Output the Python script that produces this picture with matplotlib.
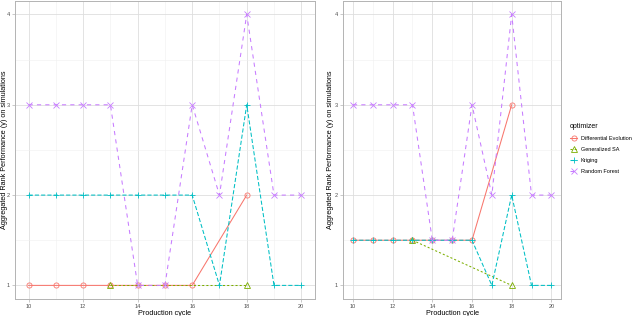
import matplotlib
matplotlib.use("Agg")
import matplotlib.pyplot as plt
import numpy as np

plt.rcParams['font.family'] = ['Liberation Sans', 'DejaVu Sans']

# ggplot-style colours / shapes / linetypes per optimizer
optimizers = ["Differential Evolution", "Generalized SA", "Kriging", "Random Forest"]
colors = ["#F8766D", "#7CAE00", "#00BFC4", "#C77CFF"]
markers = ["o", "^", "+", "x"]
dashes = [None, (2, 2), (4, 2), (4, 4)]

# left panel
left_de_x = [10, 11, 12, 13, 14, 15, 16, 18]
left_de_y = [1, 1, 1, 1, 1, 1, 1, 2]
left_gsa_x = [13, 18]
left_gsa_y = [1, 1]
left_kr_x = [10, 11, 12, 13, 14, 15, 16, 17, 18, 19, 20]
left_kr_y = [2, 2, 2, 2, 2, 2, 2, 1, 3, 1, 1]
left_rf_x = [10, 11, 12, 13, 14, 15, 16, 17, 18, 19, 20]
left_rf_y = [3, 3, 3, 3, 1, 1, 3, 2, 4, 2, 2]

# right panel
right_de_x = [10, 11, 12, 13, 14, 15, 16, 18]
right_de_y = [1.5, 1.5, 1.5, 1.5, 1.5, 1.5, 1.5, 3]
right_gsa_x = [13, 18]
right_gsa_y = [1.5, 1]
right_kr_x = [10, 11, 12, 13, 14, 15, 16, 17, 18, 19, 20]
right_kr_y = [1.5, 1.5, 1.5, 1.5, 1.5, 1.5, 1.5, 1, 2, 1, 1]
right_rf_x = [10, 11, 12, 13, 14, 15, 16, 17, 18, 19, 20]
right_rf_y = [3, 3, 3, 3, 1.5, 1.5, 3, 2, 4, 2, 2]

left_data = [(left_de_x, left_de_y), (left_gsa_x, left_gsa_y),
             (left_kr_x, left_kr_y), (left_rf_x, left_rf_y)]
right_data = [(right_de_x, right_de_y), (right_gsa_x, right_gsa_y),
              (right_kr_x, right_kr_y), (right_rf_x, right_rf_y)]

fig = plt.figure(figsize=(6.4, 3.16), dpi=100)
ax1 = fig.add_axes([0.0234, 0.054, 0.4686, 0.943])
ax2 = fig.add_axes([0.536, 0.054, 0.341, 0.943])


def draw(ax, data, ylab_x):
    handles = []
    for (x, y), name, c, m, d in zip(data, optimizers, colors, markers, dashes):
        ln, = ax.plot(x, y, color=c, lw=0.75, marker=m, markersize=3.7,
                      markerfacecolor='none', markeredgewidth=0.6, label=name)
        if d is not None:
            ln.set_dashes(d)
        handles.append(ln)
    ax.set_xlim(9.5, 20.5)
    ax.set_ylim(0.85, 4.15)
    ax.set_xticks([10, 12, 14, 16, 18, 20])
    ax.set_xticks([11, 13, 15, 17, 19], minor=True)
    ax.set_yticks([1, 2, 3, 4])
    ax.set_yticks([1.5, 2.5, 3.5], minor=True)
    ax.grid(which='major', color='#DEDEDE', lw=0.6)
    ax.grid(which='minor', color='#EFEFEF', lw=0.4)
    ax.set_axisbelow(True)
    for s in ax.spines.values():
        s.set_color('#B3B3B3')
        s.set_linewidth(0.7)
    ax.tick_params(which='major', length=2, width=0.5, color='#B3B3B3',
                   labelsize=4, labelcolor='#4D4D4D', pad=1.5)
    ax.tick_params(which='minor', length=0)
    ax.set_xlabel("Production cycle", fontsize=5.2, labelpad=1)
    ax.set_ylabel("Aggregated Rank Performance (y) on simulations", fontsize=5.2,
                  va='center')
    ax.yaxis.set_label_coords(ylab_x, 0.5)
    return handles


draw(ax1, left_data, -0.036)
h = draw(ax2, right_data, -0.056)

fig.legend(handles=h, labels=optimizers, title="optimizer", loc='center left',
           bbox_to_anchor=(0.884, 0.53), frameon=False, fontsize=4.0,
           title_fontsize=5, handlelength=1.4, handletextpad=0.6,
           labelspacing=1.1, alignment='left', borderaxespad=0.3)

fig.savefig("out.png", dpi=100)
